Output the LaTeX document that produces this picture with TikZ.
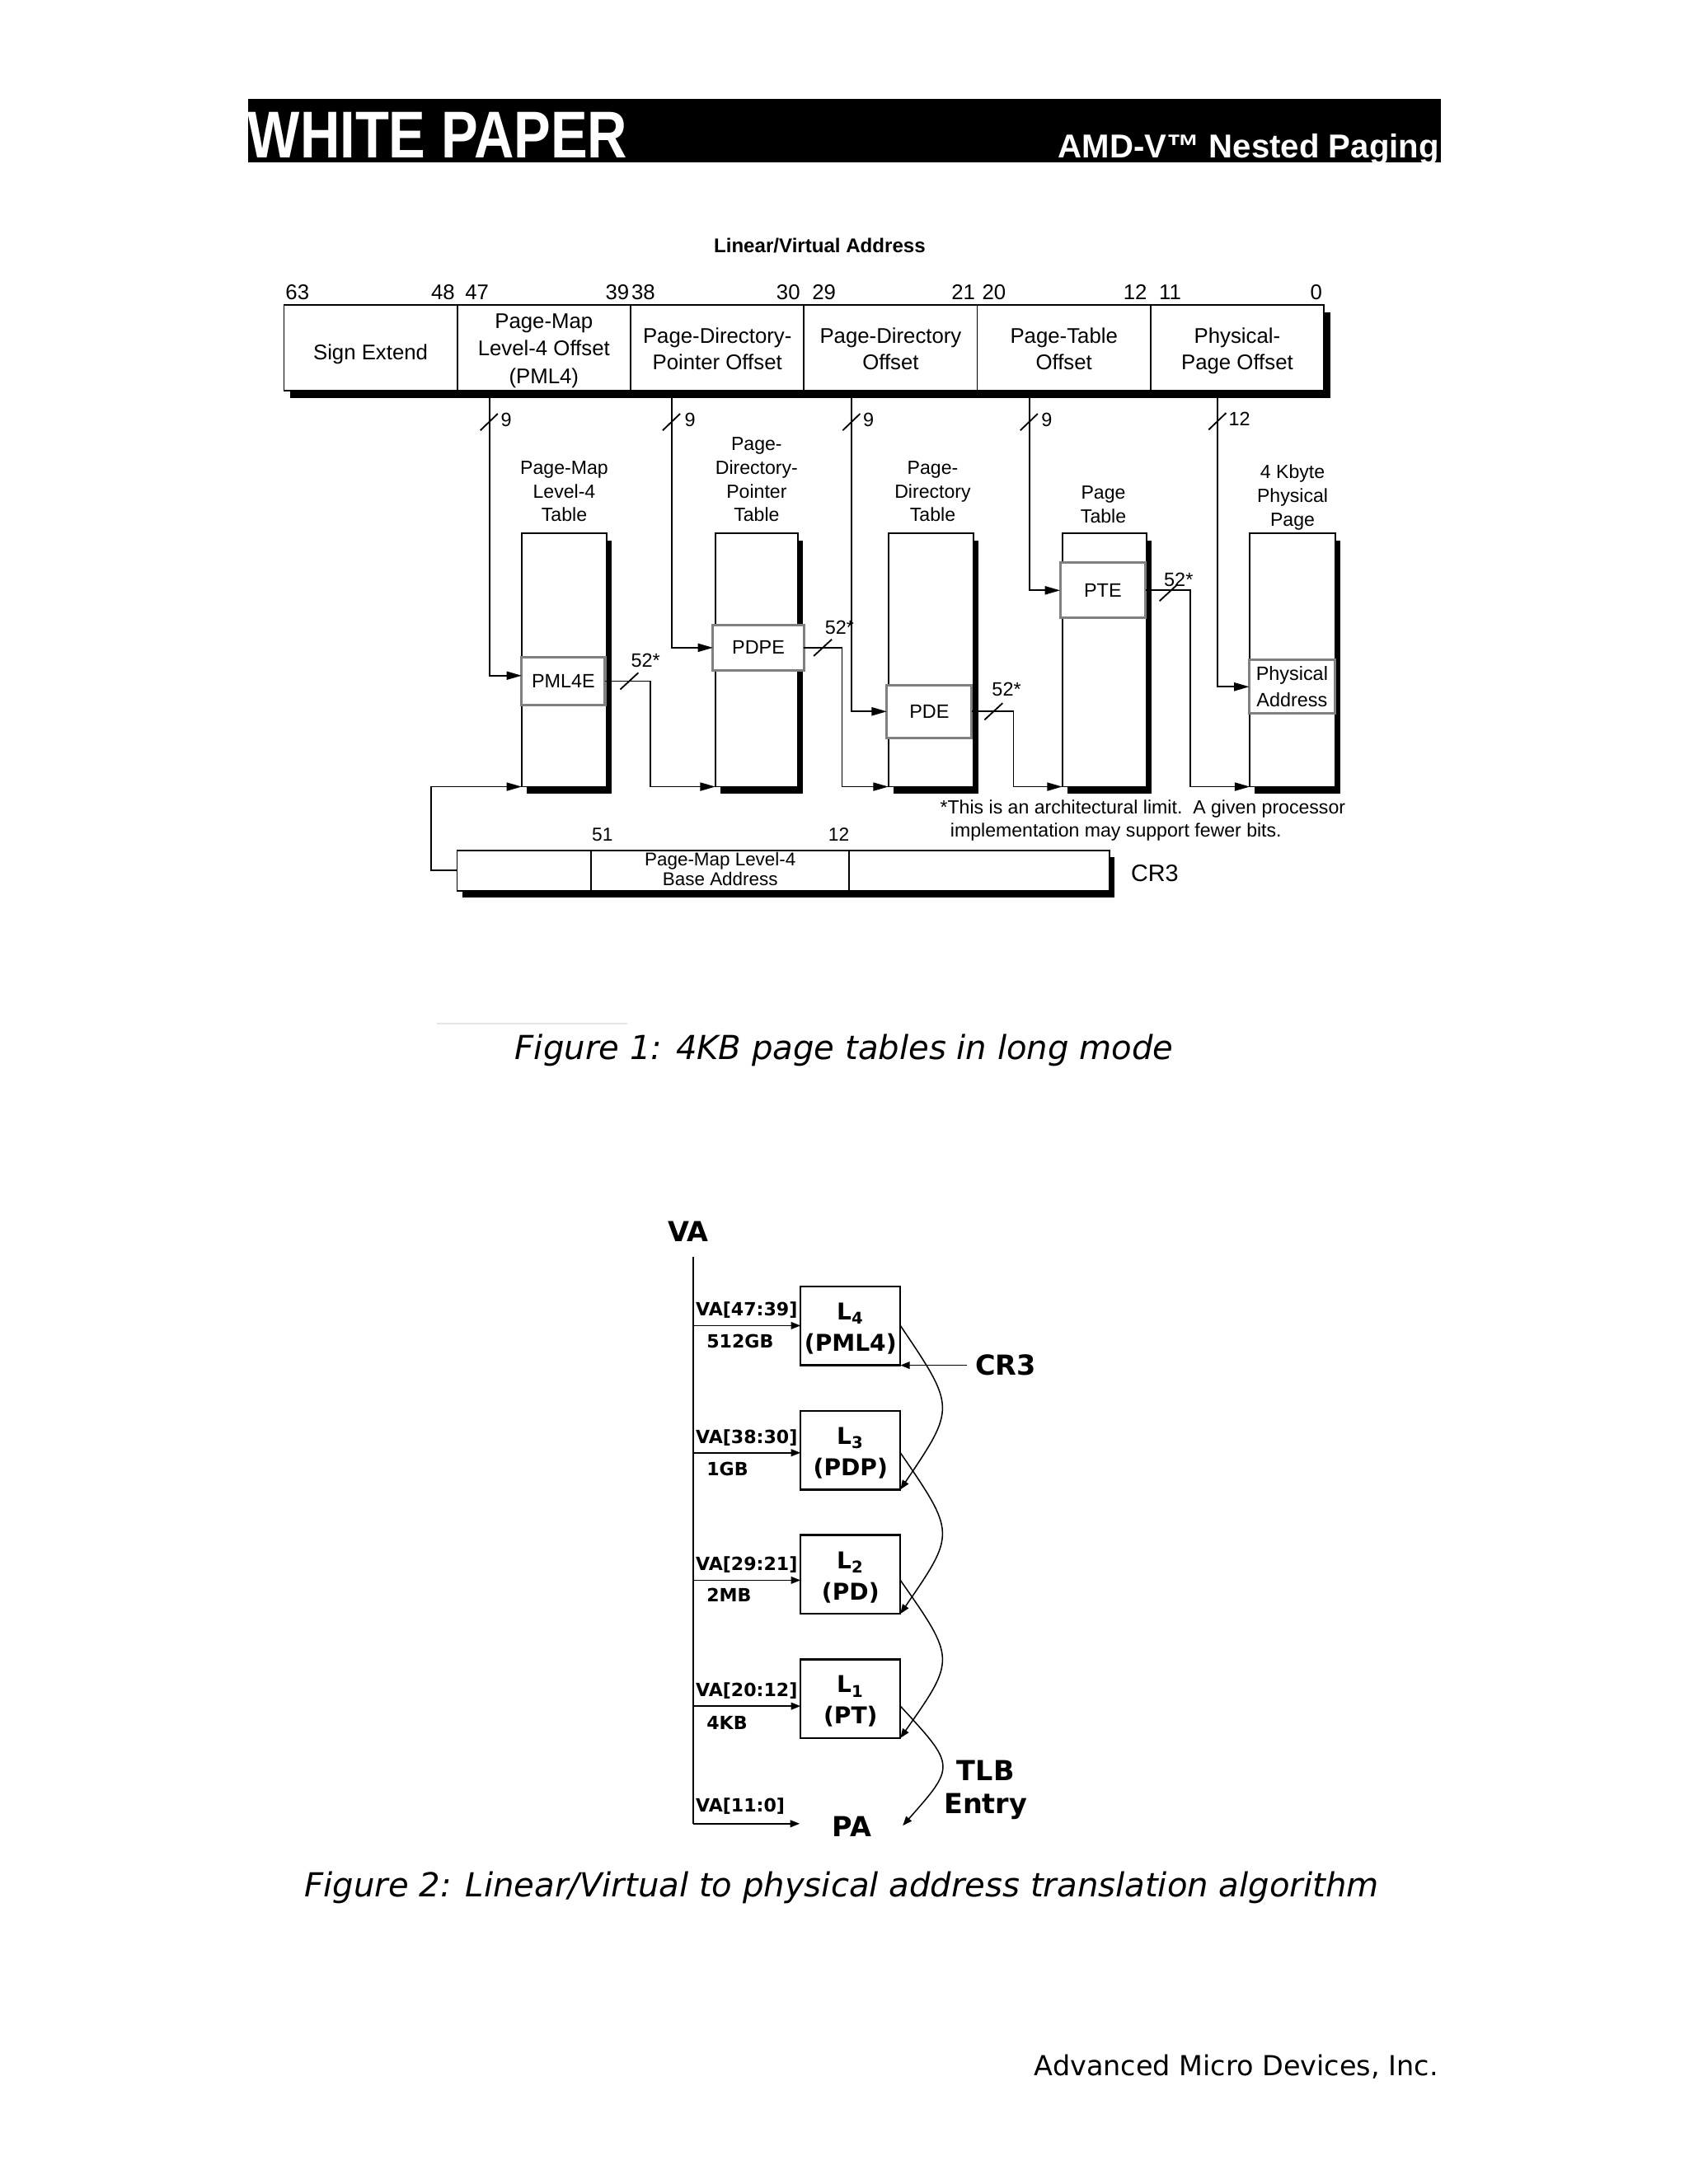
\documentclass[tikz,border=0pt]{standalone}
\usepackage{fontspec}
\setmainfont{Liberation Sans}
\newfontfamily\verd{DejaVu Sans}
\usetikzlibrary{arrows.meta,shadows}
\newcommand\myrect[7]{\node[#1,minimum width={(#5-#3)*0.505pt},minimum height={(#6-#4)*0.505pt}] (#2) at (#3,#4) {#7};}
\begin{document}
\begin{tikzpicture}[x=0.505pt,y=-0.505pt,
  every node/.style={inner sep=0pt,outer sep=0pt},
  ln/.style={line width=0.55pt},
  arr/.style={line width=0.55pt,-{Triangle[length=5.5pt,width=3pt]}},
  sarr/.style={line width=0.45pt,-{Triangle[length=3.4pt,width=2.6pt]}},
  shA/.style={drop shadow={shadow xshift=1.8pt,shadow yshift=-2.5pt,fill=black,opacity=1}},
  shB/.style={drop shadow={shadow xshift=2.3pt,shadow yshift=-2.8pt,fill=black,opacity=1}},
  shC/.style={drop shadow={shadow xshift=2pt,shadow yshift=-2.4pt,fill=black,opacity=1}},
  tbl/.style={draw,line width=0.55pt,fill=white,rectangle,anchor=north west},
  ent/.style={draw=black!50,line width=0.9pt,fill=white,rectangle,anchor=north west,align=center,font=\fontsize{7}{9.7}\selectfont},
  fld/.style={font=\fontsize{7.7}{9}\selectfont,anchor=base},
  bnw/.style={font=\fontsize{7.7}{9}\selectfont,anchor=base west},
  bne/.style={font=\fontsize{7.7}{9}\selectfont,anchor=base east},
  ttl/.style={font=\fontsize{6.9}{8}\selectfont,anchor=base},
  sml/.style={font=\fontsize{7}{8}\selectfont,anchor=base west},
  fbx/.style={draw,line width=0.7pt,fill=white,rectangle,anchor=north west},
  big/.style={font=\verd\bfseries\fontsize{10}{11}\selectfont,anchor=base west},
  vlab/.style={font=\verd\bfseries\fontsize{6.6}{8}\selectfont,anchor=base west},
  btxt/.style={font=\verd\bfseries\fontsize{8.4}{10}\selectfont,anchor=base},
  capt/.style={font=\verd\itshape\fontsize{12}{14}\selectfont,anchor=base},
]
\useasboundingbox (0,0) rectangle (1212,1568);

% ---------------- header ----------------
\myrect{fill=black,rectangle,anchor=north west}{bar}{178}{71}{1034}{116.8}{}
\node[anchor=base west,text=white,font=\bfseries\fontsize{24}{26}\selectfont] (wp) at (178,113.4) {\scalebox{0.834}[1]{WHITE PAPER}};
\node[anchor=base east,text=white,font=\bfseries\fontsize{12}{14}\selectfont] (amd) at (1033,113.4) {AMD-V™ Nested Paging};

% ---------------- figure 1 ----------------
\node[anchor=base,font=\bfseries\fontsize{7.2}{9}\selectfont] (lva) at (588.4,181.5) {Linear/Virtual Address};

\myrect{tbl,shB}{vaf}{203.8}{219}{950.3}{280.5}{}
\foreach \i in {1,...,5} \draw[ln] ({203.8+124.42*\i},219) -- ({203.8+124.42*\i},280.5);

\node[bnw] (b63) at (205,214.9) {63};
\node[bne] (b48) at (326.5,214.9) {48};
\node[bnw] (b47) at (333.9,214.9) {47};
\node[bne] (b39) at (451.6,214.9) {39};
\node[bnw] (b38) at (453.3,214.9) {38};
\node[bne] (b30) at (574.3,214.9) {30};
\node[bnw] (b29) at (583,214.9) {29};
\node[bne] (b21) at (700,214.9) {21};
\node[bnw] (b20) at (705,214.9) {20};
\node[bne] (b12) at (823.3,214.9) {12};
\node[bnw] (b11) at (832,214.9) {11};
\node[bne] (b0) at (949,214.9) {0};

\node[fld] (f1) at (266,258.4) {Sign Extend};
\node[fld] (f2a) at (390.4,235.7) {Page-Map};
\node[fld] (f2b) at (390.4,255.6) {Level-4 Offset};
\node[fld] (f2c) at (390.4,275.4) {(PML4)};
\node[fld] (f3a) at (514.9,246.6) {Page-Directory-};
\node[fld] (f3b) at (514.9,265.3) {Pointer Offset};
\node[fld] (f4a) at (639.3,246.6) {Page-Directory};
\node[fld] (f4b) at (639.3,265.3) {Offset};
\node[fld] (f5a) at (763.7,246.6) {Page-Table};
\node[fld] (f5b) at (763.7,265.3) {Offset};
\node[fld] (f6a) at (888.1,246.6) {Physical-};
\node[fld] (f6b) at (888.1,265.3) {Page Offset};

% table titles
\node[ttl] (t1a) at (405,340.5) {Page-Map};
\node[ttl] (t1b) at (405,357.5) {Level-4};
\node[ttl] (t1c) at (405,374.5) {Table};
\node[ttl] (t2a) at (543.1,323.5) {Page-};
\node[ttl] (t2b) at (543.1,340.5) {Directory-};
\node[ttl] (t2c) at (543.1,357.5) {Pointer};
\node[ttl] (t2d) at (543.1,374.5) {Table};
\node[ttl] (t3a) at (669.5,340.5) {Page-};
\node[ttl] (t3b) at (669.5,357.5) {Directory};
\node[ttl] (t3c) at (669.5,374.5) {Table};
\node[ttl] (t4a) at (792,358.5) {Page};
\node[ttl] (t4b) at (792,375.5) {Table};
\node[ttl] (t5a) at (927.8,343.5) {4 Kbyte};
\node[ttl] (t5b) at (927.8,360.5) {Physical};
\node[ttl] (t5c) at (927.8,377.5) {Page};

% tables
\myrect{tbl,shA}{pml4t}{374.5}{383}{435.7}{564.8}{}
\myrect{tbl,shA}{pdpt}{513.5}{383}{572.7}{564.8}{}
\myrect{tbl,shA}{pdt}{637.7}{383}{699}{564.8}{}
\myrect{tbl,shA}{ptt}{762.5}{383}{823.1}{564.8}{}
\myrect{tbl,shA}{pgt}{897.2}{383}{958.5}{564.8}{}

% entries
\myrect{ent}{pml4e}{374.5}{472}{434.3}{506}{PML4E}
\myrect{ent}{pdpe}{511.8}{448.9}{577}{481.1}{PDPE}
\myrect{ent}{pde}{636.6}{491.9}{697.5}{529.7}{PDE}
\myrect{ent}{pte}{761}{404}{822.2}{443.7}{PTE}
\myrect{ent}{paddr}{896.8}{473.8}{958}{512.3}{Physical\\Address}

% index lines from the address
\coordinate (s1) at (351.3,281);
\coordinate (s2) at (482.2,281);
\coordinate (s3) at (611.4,281);
\coordinate (s4) at (738.9,281);
\coordinate (s5) at (874.1,281);
\draw[arr] (s1) |- ([yshift=2pt]pml4e.west);
\draw[arr] (s2) |- (pdpe.west);
\draw[arr] (s3) |- (pde.west);
\draw[arr] (s4) |- (pte.west);
\draw[arr] (s5) |- (paddr.west);

\coordinate (tk1) at (351.3,303);
\coordinate (tk2) at (482.2,303);
\coordinate (tk3) at (611.4,303);
\coordinate (tk4) at (738.9,303);
\coordinate (tk5) at (874.1,302.5);
\foreach \t in {tk1,tk2,tk3,tk4,tk5} \draw[ln] (\t) +(-6.5,6) -- +(6,-6);
\node[sml] (n1) at (359.5,306.2) {9};
\node[sml] (n2) at (491.5,306.2) {9};
\node[sml] (n3) at (619.5,306.2) {9};
\node[sml] (n4) at (747.5,306.2) {9};
\node[sml] (n5) at (882,305.5) {12};

% base-address lines
\coordinate (k1) at (466.6,0);
\coordinate (k2) at (604.4,0);
\coordinate (k3) at (727.5,0);
\coordinate (k4) at (854.5,0);
\draw[arr] (pml4e.east) -| (k1 |- pdpt.south west) -- (pdpt.south west);
\draw[arr] (pdpe.east) -| (k2 |- pdt.south west) -- (pdt.south west);
\draw[arr] (pde.east) -| (k3 |- ptt.south west) -- (ptt.south west);
\draw[arr] (pte.east) -| (k4 |- pgt.south west) -- (pgt.south west);

\coordinate (tk6) at (451.7,489);
\coordinate (tk7) at (590.6,465);
\coordinate (tk8) at (713.2,510.8);
\coordinate (tk9) at (838.8,425.5);
\foreach \t in {tk6,tk7,tk8,tk9} \draw[ln] (\t) +(-6.5,6) -- +(6.5,-6);
\node[sml] (m1) at (453,479) {52*};
\node[sml] (m2) at (592.2,455.3) {52*};
\node[sml] (m3) at (712.1,499.8) {52*};
\node[sml] (m4) at (835.6,421) {52*};

% footnote
\node[font=\fontsize{6.9}{8}\selectfont,anchor=base west] (fn1) at (674.9,584) {*This is an architectural limit.\ \ A given processor};
\node[font=\fontsize{6.9}{8}\selectfont,anchor=base west] (fn2) at (682.2,601) {implementation may support fewer bits.};

% CR3 register
\myrect{tbl,shC}{cr3r}{328.1}{610.5}{796.2}{639.5}{}
\draw[ln] (424.3,610.5) -- (424.3,639.5);
\draw[ln] (609.6,610.5) -- (609.6,639.5);
\node[font=\fontsize{6.8}{8}\selectfont,anchor=base west] (c51) at (424.9,604) {51};
\node[font=\fontsize{6.8}{8}\selectfont,anchor=base east] (c12) at (609.6,604) {12};
\node[font=\fontsize{6.7}{8}\selectfont,anchor=base] (cpa) at (517,621.3) {Page-Map Level-4};
\node[font=\fontsize{6.7}{8}\selectfont,anchor=base] (cpb) at (517,636) {Base Address};
\node[font=\fontsize{8.6}{10}\selectfont,anchor=base west] (cr3l) at (811.8,632.8) {CR3};
\coordinate (c0) at (309.5,0);
\draw[arr] (cr3r.west) -| (c0 |- pml4t.south west) -- (pml4t.south west);

% caption 1
\draw[black!10,line width=0.5pt] (313.6,734.7) -- (450,734.7);
\node[capt] (cap1) at (606,760.4) {Figure 1: 4KB page tables in long mode};

% ---------------- figure 2 ----------------
\node[big] (vat) at (479.3,891.5) {VA};
\coordinate (vtop) at (497.6,902.4);
\coordinate (vbot) at (497.6,1309.3);
\coordinate (paend) at (574,1309.3);
\draw[line width=0.65pt] (vtop) -- (vbot);
\draw[sarr] (vbot) -- (paend);

\myrect{fbx}{l4}{574.6}{923.7}{646.3}{980.2}{}
\myrect{fbx}{l3}{574.6}{1012.9}{646.3}{1069.4}{}
\myrect{fbx}{l2}{574.6}{1102.1}{646.3}{1158.6}{}
\myrect{fbx}{l1}{574.6}{1191.3}{646.3}{1247.8}{}

\node[btxt] (l4a) at (610.5,947.7) {L\textsubscript{4}};
\node[btxt] (l4b) at (610.5,970.2) {(PML4)};
\node[btxt] (l3a) at (610.5,1036.9) {L\textsubscript{3}};
\node[btxt] (l3b) at (610.5,1059.4) {(PDP)};
\node[btxt] (l2a) at (610.5,1126.1) {L\textsubscript{2}};
\node[btxt] (l2b) at (610.5,1148.6) {(PD)};
\node[btxt] (l1a) at (610.5,1215.3) {L\textsubscript{1}};
\node[btxt] (l1b) at (610.5,1237.8) {(PT)};

\coordinate (a4) at (497.6,951.7);
\coordinate (a3) at (497.6,1043);
\coordinate (a2) at (497.6,1134.5);
\coordinate (a1) at (497.6,1224.9);
\draw[sarr] (a4) -- (a4 -| l4.west);
\draw[sarr] (a3) -- (a3 -| l3.west);
\draw[sarr] (a2) -- (a2 -| l2.west);
\draw[sarr] (a1) -- (a1 -| l1.west);

\node[vlab] (v4a) at (499.5,944.8) {VA[47:39]};
\node[vlab] (v4b) at (507.3,967.5) {512GB};
\node[vlab] (v3a) at (499.5,1036.5) {VA[38:30]};
\node[vlab] (v3b) at (507.3,1059.2) {1GB};
\node[vlab] (v2a) at (499.5,1127.2) {VA[29:21]};
\node[vlab] (v2b) at (507.3,1149.9) {2MB};
\node[vlab] (v1a) at (499.5,1217.9) {VA[20:12]};
\node[vlab] (v1b) at (507.3,1241.6) {4KB};
\node[vlab] (v0a) at (499.5,1300.8) {VA[11:0]};

\node[big] (pat) at (597.6,1318.5) {PA};
\node[big,anchor=base] (tlb1) at (707.5,1278.1) {TLB};
\node[big,anchor=base] (tlb2) at (707.5,1302.2) {Entry};

\coordinate (cr3s) at (694.3,0);
\draw[sarr] (l4.south east -| cr3s) -- (l4.south east);
\node[big] (cr3t) at (700.2,987.2) {CR3};

\coordinate (paarr) at (648,1310.7);
\draw[sarr] (a4 -| l4.east) .. controls (686,1010.5) .. (l3.south east);
\draw[sarr] (a3 -| l3.east) .. controls (686,1100.8) .. (l2.south east);
\draw[sarr] (a2 -| l2.east) .. controls (686,1191.2) .. (l1.south east);
\draw[sarr] (a1 -| l1.east) .. controls (686,1267.8) .. (paarr);

\node[capt] (cap2) at (604.2,1362) {Figure 2: Linear/Virtual to physical address translation algorithm};

% footer
\node[anchor=base east,font=\verd\fontsize{10}{12}\selectfont] (foot) at (1032.3,1490) {Advanced Micro Devices, Inc.};
\end{tikzpicture}
\end{document}
